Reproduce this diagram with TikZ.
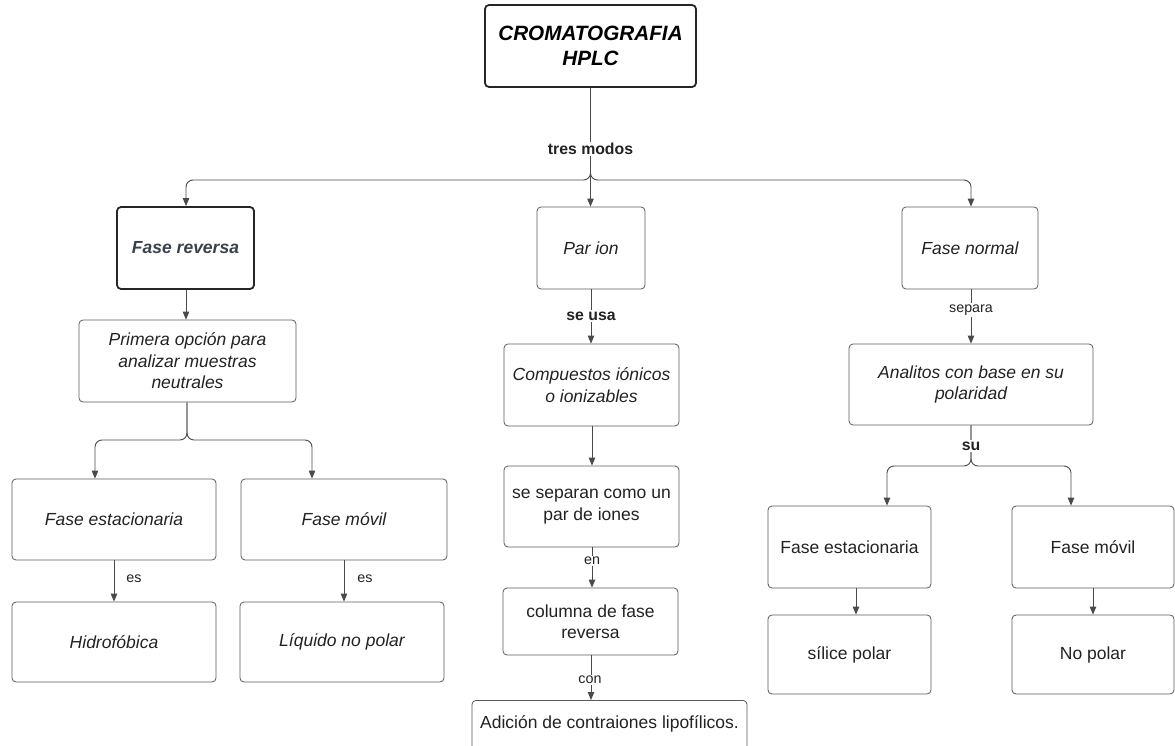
\documentclass[tikz,border=0pt]{standalone}
\usepackage{fontspec}
\setmainfont{Liberation Sans}
\usetikzlibrary{arrows.meta,calc}
\definecolor{linec}{HTML}{4A4A4A}
\definecolor{textc}{HTML}{222222}
\definecolor{boxc}{HTML}{5A5A5A}
\definecolor{frc}{HTML}{3B414B}
\tikzset{
  box/.style={draw=boxc, line width=0.8pt, rounded corners=4pt, text=textc,
    font=\fontsize{17.5}{21.5}\selectfont, align=center, inner sep=2pt},
  ibox/.style={box, font=\fontsize{17.5}{21.5}\selectfont\itshape},
  heavy/.style={draw=black!85, line width=1.8pt},
  conn/.style={draw=linec, line width=0.9pt, -{Triangle[length=8pt,width=6.5pt]}},
  brch/.style={conn, rounded corners=7pt},
  lbl/.style={fill=white, text=textc, font=\fontsize{14.3}{16}\selectfont, inner sep=1.5pt},
  blbl/.style={lbl, font=\fontsize{15.8}{17}\selectfont\bfseries},
}
\begin{document}
\begin{tikzpicture}[x=1pt,y=-1pt]
\useasboundingbox (0,0) rectangle (1175,746);
% top
\node[box, heavy, minimum width=211pt, minimum height=82pt,
  font=\fontsize{20.7}{25}\selectfont\bfseries\itshape, text=black] (top) at (590.5,46) {CROMATOGRAFIA\\HPLC};
% level 1
\node[box, heavy, minimum width=137pt, minimum height=82pt,
  font=\fontsize{17.5}{21.5}\selectfont\bfseries\itshape, text=frc] (fr) at (185.5,248) {Fase reversa};
\node[ibox, minimum width=108pt, minimum height=82pt] (pi) at (591,248) {Par ion};
\node[ibox, minimum width=136pt, minimum height=82pt] (fn) at (970,248) {Fase normal};
% left column
\node[ibox, minimum width=217pt, minimum height=82pt] (po) at (187.5,361) {Primera opción para\\analizar muestras\\neutrales};
\node[ibox, minimum width=204pt, minimum height=81pt] (fe1) at (114,519.5) {Fase estacionaria};
\node[ibox, minimum width=206pt, minimum height=81pt] (fm1) at (344,519.5) {Fase móvil};
\node[ibox, minimum width=204pt, minimum height=80pt] (hid) at (114,642) {Hidrofóbica};
\node[ibox, minimum width=204pt, minimum height=80pt] (liq) at (342,642) {Líquido no polar};
% middle column
\node[ibox, minimum width=175pt, minimum height=82pt] (ci) at (591.5,385) {Compuestos iónicos\\o ionizables};
\node[box, minimum width=175pt, minimum height=81pt] (ss) at (591.5,506.5) {se separan como un\\par de iones};
\node[box, minimum width=175pt, minimum height=67pt] (col) at (590.5,621.5) {columna de fase\\reversa};
\node[draw=boxc, line width=0.8pt, rounded corners=4pt, text=textc, font=\fontsize{17.5}{21.5}\selectfont,
  minimum width=275pt, inner ysep=0pt, text height=28pt, text depth=45pt, anchor=north] (ad) at (609.5,700) {Adición de contraiones lipofílicos.};
% right column
\node[ibox, minimum width=244pt, minimum height=81pt] (an) at (971,384.5) {Analitos con base en su\\polaridad};
\node[box, minimum width=163pt, minimum height=82pt] (fe2) at (849.5,547) {Fase estacionaria};
\node[box, minimum width=162pt, minimum height=82pt] (fm2) at (1093,547) {Fase móvil};
\node[box, minimum width=163pt, minimum height=79pt] (sil) at (849.5,654.5) {sílice polar};
\node[box, minimum width=162pt, minimum height=79pt] (np) at (1093,654.5) {No polar};

% connectors from top
\draw[brch] (top.south) -- (590.5,180) -- (186,180) -- (186,0 |- fr.north);
\draw[brch] (top.south) -- (590.5,180) -- (971,180) -- (971,0 |- fn.north);
\draw[conn] (top.south) -- (590.5,0 |- pi.north);
\node[blbl] (l1) at (590.5,149) {tres modos};
% left column
\draw[conn] (186,0 |- fr.south) -- (186,0 |- po.north);
\draw[brch] (187,0 |- po.south) -- (187,440) -- (95,440) -- (95,0 |- fe1.north);
\draw[brch] (187,0 |- po.south) -- (187,440) -- (312,440) -- (312,0 |- fm1.north);
\draw[conn] (114,0 |- fe1.south) -- (114,0 |- hid.north);
\node[lbl, fill=none] (l2) at (134,579) {es};
\draw[conn] (344,0 |- fm1.south) -- (344,0 |- liq.north);
\node[lbl, fill=none] (l3) at (365,579) {es};
% middle column
\draw[conn] (591,0 |- pi.south) -- (591,0 |- ci.north);
\node[blbl] (l4) at (591,316) {se usa};
\draw[conn] (592,0 |- ci.south) -- (592,0 |- ss.north);
\draw[conn] (592,0 |- ss.south) -- (592,0 |- col.north);
\node[lbl] (l5) at (592,561) {en};
\draw[conn] (591,0 |- col.south) -- (591,0 |- ad.north);
\node[lbl] (l6) at (590,680) {con};
% right column
\draw[conn] (971,0 |- fn.south) -- (971,0 |- an.north);
\node[lbl] (l7) at (971,310) {separa};
\draw[brch] (971,0 |- an.south) -- (971,466) -- (887,466) -- (887,0 |- fe2.north);
\draw[brch] (971,0 |- an.south) -- (971,466) -- (1071,466) -- (1071,0 |- fm2.north);
\node[blbl] (l8) at (971,446) {su};
\draw[conn] (856,0 |- fe2.south) -- (856,0 |- sil.north);
\draw[conn] (1093,0 |- fm2.south) -- (1093,0 |- np.north);
\end{tikzpicture}
\end{document}
